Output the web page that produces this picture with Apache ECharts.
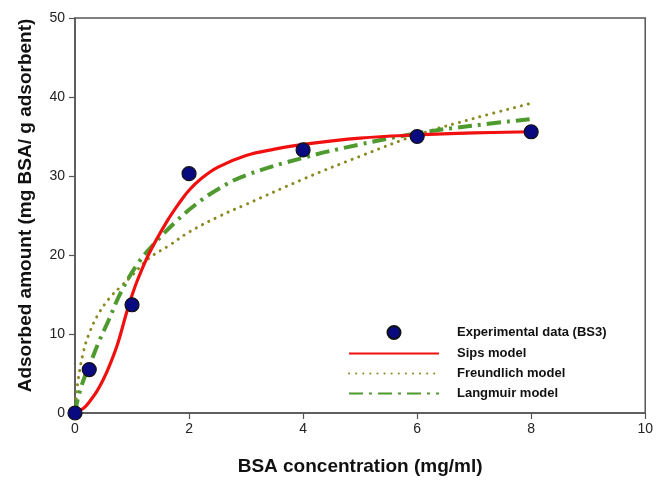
<!DOCTYPE html>
<html>
<head>
<meta charset="utf-8">
<script src="https://cdn.jsdelivr.net/npm/echarts@6/dist/echarts.min.js"></script>
<style>html,body{margin:0;padding:0;background:#fff}#c{width:656px;height:481px}</style>
</head>
<body>
<div id="c"></div>
<script>
var xTicks = [0, 2, 4, 6, 8, 10];
var yTicks = [0, 10, 20, 30, 40, 50];

var expX = [0, 0.25, 1, 2, 4, 6, 8];
var expY = [0, 5.5, 13.7, 30.3, 33.3, 35.0, 35.6];

var sipsX = [0, 0.15, 0.25, 0.38, 0.5, 0.6, 0.75, 0.9, 1, 1.1, 1.3, 1.6, 1.85, 2, 2.2, 2.5, 3, 3.5, 4, 5, 6, 7, 8];
var sipsY = [0, 0.6, 1.4, 2.7, 4.3, 5.9, 8.8, 12.6, 14.9, 16.9, 20.2, 24.1, 26.8, 28.2, 29.6, 31.1, 32.6, 33.4, 34.0, 34.8, 35.2, 35.45, 35.6];

var freundX = [0, 0.02, 0.06, 0.15, 0.25, 0.4, 0.6, 0.8, 1, 1.3, 1.65, 2, 2.5, 3, 4, 5, 6, 7, 8];
var freundY = [0, 1.9, 4.4, 7.8, 10.1, 12.4, 14.5, 16.0, 17.4, 19.6, 21.2, 22.9, 24.8, 26.4, 29.6, 32.5, 35.2, 37.3, 39.2];

var langX = [0, 0.05, 0.15, 0.25, 0.4, 0.6, 0.8, 1.1, 1.4, 1.75, 2.1, 2.5, 3, 4, 5, 6, 7, 8];
var langY = [0, 1.8, 4.2, 5.9, 8.7, 11.9, 15.2, 18.9, 21.5, 24.1, 26.3, 28.3, 30.1, 32.3, 34.0, 35.4, 36.4, 37.2];

function pairs(xs, ys) { return xs.map(function (x, i) { return [x, ys[i]]; }); }

var chart = echarts.init(document.getElementById('c'), null, { renderer: 'canvas' });
var font = 'Liberation Sans, Arial, sans-serif';
chart.setOption({
  animation: false,
  backgroundColor: '#fff',
  grid: { left: 75, right: 10, top: 18, bottom: 67, show: true, borderColor: '#555', borderWidth: 1.5, containLabel: false },
  xAxis: {
    type: 'value', min: xTicks[0], max: xTicks[xTicks.length - 1], interval: 2,
    name: 'BSA concentration (mg/ml)', nameLocation: 'middle', nameGap: 44,
    nameTextStyle: { fontFamily: font, fontSize: 19, fontWeight: 'bold', color: '#111' },
    axisLine: { show: true, lineStyle: { color: '#555', width: 1.5 } },
    axisTick: { show: true, inside: false, length: 6, lineStyle: { color: '#555', width: 1.2 } },
    axisLabel: { fontFamily: font, fontSize: 14, color: '#222', margin: 9 },
    splitLine: { show: false }
  },
  yAxis: {
    type: 'value', min: yTicks[0], max: yTicks[yTicks.length - 1], interval: 10,
    name: 'Adsorbed amount (mg BSA/ g adsorbent)', nameLocation: 'middle', nameGap: 40, nameRotate: 90,
    nameTextStyle: { fontFamily: font, fontSize: 19, fontWeight: 'bold', color: '#111', padding: [0, 0, 0, 20] },
    axisLine: { show: true, lineStyle: { color: '#555', width: 1.5 } },
    axisTick: { show: true, inside: false, length: 6, lineStyle: { color: '#555', width: 1.2 } },
    axisLabel: { fontFamily: font, fontSize: 14, color: '#222', margin: 10 },
    splitLine: { show: false }
  },
  legend: {
    orient: 'vertical', left: 343, top: 320, itemWidth: 90, itemHeight: 13, itemGap: 7,
    textStyle: { fontFamily: font, fontSize: 13, fontWeight: 'bold', color: '#111', padding: [0, 0, 0, 13] },
    data: ['Experimental data (BS3)', 'Sips model', 'Freundlich model', 'Langmuir model']
  },
  series: [
    {
      name: 'Freundlich model', type: 'line', data: pairs(freundX, freundY), smooth: 0.4,
      showSymbol: false, symbol: 'none',
      lineStyle: { color: '#8a8a22', width: 3, type: [0.1, 7], cap: 'round' },
      itemStyle: { color: '#8a8a22', opacity: 0 }, z: 2
    },
    {
      name: 'Langmuir model', type: 'line', data: pairs(langX, langY), smooth: 0.4,
      showSymbol: false, symbol: 'none',
      lineStyle: { color: '#4f9a2e', width: 4, type: [14, 6, 3, 6] },
      itemStyle: { color: '#4f9a2e', opacity: 0 }, z: 3
    },
    {
      name: 'Sips model', type: 'line', data: pairs(sipsX, sipsY), smooth: 0.4,
      showSymbol: false, symbol: 'none',
      lineStyle: { color: '#f01010', width: 3.2 },
      itemStyle: { color: '#f01010', opacity: 0 }, z: 4
    },
    {
      name: 'Experimental data (BS3)', type: 'scatter', data: pairs(expX, expY),
      symbol: 'circle', symbolSize: 14,
      itemStyle: { color: '#0a0a80', borderColor: '#111', borderWidth: 1.2, opacity: 1 },
      z: 5
    }
  ]
});
</script>
</body>
</html>
